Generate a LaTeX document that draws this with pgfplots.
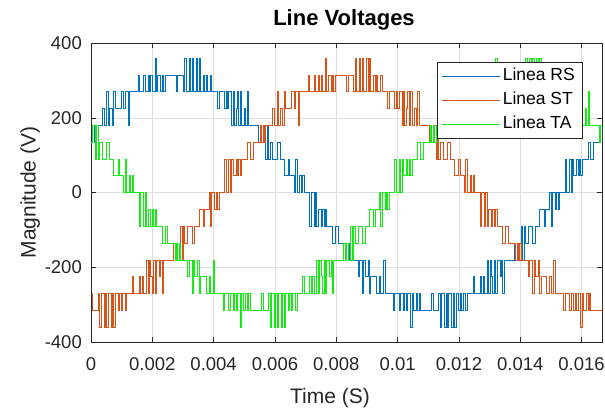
\documentclass[border=0pt]{standalone}
\usepackage{pgfplots}
\usepackage{pgfplotstable}
\pgfplotsset{compat=1.18}
\usepackage{fontspec}
\setmainfont{Liberation Sans}
\definecolor{mblue}{RGB}{0,114,189}
\definecolor{mred}{RGB}{217,83,25}
\definecolor{mgreen}{RGB}{20,235,20}
\definecolor{axgray}{RGB}{38,38,38}
\definecolor{gridgray}{RGB}{222,222,222}

\pgfplotstableread{
t rs st ta
0.000000 135 -270 135
0.000046 180 -315 180
0.000093 135 -315 180
0.000139 180 -315 90
0.000185 180 -315 180
0.000231 180 -270 90
0.000278 180 -360 135
0.000324 180 -270 135
0.000370 225 -270 90
0.000417 180 -360 90
0.000463 180 -270 90
0.000509 270 -360 135
0.000556 180 -270 135
0.000602 225 -270 90
0.000648 225 -360 90
0.000694 180 -270 90
0.000741 270 -360 45
0.000787 225 -270 45
0.000833 225 -270 45
0.000880 225 -315 90
0.000926 225 -270 45
0.000972 270 -315 45
0.001019 270 -270 45
0.001065 225 -270 0
0.001111 270 -315 90
0.001157 270 -270 0
0.001204 180 -270 0
0.001250 270 -270 45
0.001296 270 -270 0
0.001343 270 -225 45
0.001389 270 -270 0
0.001435 270 -270 0
0.001482 270 -270 0
0.001528 315 -270 0
0.001574 270 -225 -90
0.001620 270 -270 0
0.001667 270 -225 0
0.001713 315 -270 -90
0.001759 270 -270 0
0.001806 270 -180 -90
0.001852 315 -270 -45
0.001898 270 -180 -45
0.001945 315 -225 -90
0.001991 270 -270 -45
0.002037 270 -180 -90
0.002083 360 -270 -45
0.002130 270 -180 -90
0.002176 315 -180 -90
0.002222 315 -225 -90
0.002269 270 -180 -90
0.002315 315 -270 -135
0.002361 270 -180 -135
0.002408 315 -180 -90
0.002454 315 -180 -90
0.002500 315 -180 -135
0.002546 315 -180 -135
0.002593 315 -180 -135
0.002639 315 -180 -135
0.002685 315 -135 -135
0.002732 315 -180 -180
0.002778 270 -135 -135
0.002824 315 -180 -180
0.002871 315 -180 -135
0.002917 315 -90 -180
0.002963 315 -180 -180
0.003009 270 -90 -180
0.003056 360 -135 -180
0.003102 270 -135 -180
0.003148 270 -90 -225
0.003195 360 -90 -180
0.003241 270 -90 -180
0.003287 360 -135 -270
0.003334 270 -135 -180
0.003380 270 -90 -225
0.003426 360 -90 -225
0.003472 270 -90 -180
0.003519 360 -45 -270
0.003565 270 -45 -225
0.003611 270 -45 -225
0.003658 315 -90 -225
0.003704 270 -45 -225
0.003750 315 -45 -270
0.003797 270 -45 -270
0.003843 270 0 -225
0.003889 315 -90 -270
0.003935 270 0 -270
0.003982 270 0 -180
0.004028 270 -45 -270
0.004074 270 0 -270
0.004121 225 -45 -270
0.004167 270 0 -270
0.004213 270 0 -270
0.004260 270 0 -270
0.004306 270 0 -315
0.004352 225 90 -270
0.004398 270 0 -270
0.004445 225 0 -270
0.004491 270 90 -315
0.004537 270 0 -270
0.004584 180 90 -270
0.004630 270 45 -315
0.004676 180 45 -270
0.004723 225 90 -315
0.004769 270 45 -270
0.004815 180 90 -270
0.004861 270 45 -360
0.004908 180 90 -270
0.004954 180 90 -315
0.005000 225 90 -315
0.005047 180 90 -270
0.005093 270 135 -315
0.005139 180 135 -270
0.005186 180 90 -315
0.005232 180 90 -315
0.005278 180 135 -315
0.005324 180 135 -315
0.005371 180 135 -315
0.005417 180 135 -315
0.005463 135 135 -315
0.005510 180 180 -315
0.005556 135 135 -270
0.005602 180 180 -315
0.005649 180 135 -315
0.005695 90 180 -315
0.005741 180 180 -315
0.005787 90 180 -270
0.005834 135 180 -360
0.005880 135 180 -270
0.005926 90 225 -270
0.005973 90 180 -360
0.006019 90 180 -270
0.006065 135 270 -360
0.006112 135 180 -270
0.006158 90 225 -270
0.006204 90 225 -360
0.006250 90 180 -270
0.006297 45 270 -360
0.006343 45 225 -270
0.006389 45 225 -270
0.006436 90 225 -315
0.006481 45 225 -270
0.006527 45 270 -315
0.006574 45 270 -270
0.006620 0 225 -270
0.006666 90 270 -315
0.006712 0 270 -270
0.006759 0 180 -270
0.006805 45 270 -270
0.006851 0 270 -270
0.006898 45 270 -225
0.006944 0 270 -270
0.006990 0 270 -270
0.007037 0 270 -270
0.007083 0 315 -270
0.007129 -90 270 -225
0.007175 0 270 -270
0.007222 0 270 -225
0.007268 -90 315 -270
0.007314 0 270 -270
0.007361 -90 270 -180
0.007407 -45 315 -270
0.007453 -45 270 -180
0.007500 -90 315 -225
0.007546 -45 270 -270
0.007592 -90 270 -180
0.007638 -45 360 -270
0.007685 -90 270 -180
0.007731 -90 315 -180
0.007777 -90 315 -225
0.007824 -90 270 -180
0.007870 -135 315 -270
0.007916 -135 270 -180
0.007963 -90 315 -180
0.008009 -90 315 -180
0.008055 -135 315 -180
0.008101 -135 315 -180
0.008148 -135 315 -180
0.008194 -135 315 -180
0.008240 -135 315 -135
0.008287 -180 315 -180
0.008333 -135 270 -135
0.008379 -180 315 -180
0.008426 -135 315 -180
0.008472 -180 315 -90
0.008518 -180 315 -180
0.008564 -180 270 -90
0.008611 -180 360 -135
0.008657 -180 270 -135
0.008703 -225 270 -90
0.008750 -180 360 -90
0.008796 -180 270 -90
0.008842 -270 360 -135
0.008889 -180 270 -135
0.008935 -225 270 -90
0.008981 -225 360 -90
0.009027 -180 270 -90
0.009074 -270 360 -45
0.009120 -225 270 -45
0.009166 -225 270 -45
0.009213 -225 315 -90
0.009259 -225 270 -45
0.009305 -270 315 -45
0.009352 -270 270 -45
0.009398 -225 270 0
0.009444 -270 315 -90
0.009490 -270 270 0
0.009537 -180 270 0
0.009583 -270 270 -45
0.009629 -270 270 0
0.009676 -270 225 -45
0.009722 -270 270 0
0.009768 -270 270 0
0.009815 -270 270 0
0.009861 -315 270 0
0.009907 -270 225 90
0.009953 -270 270 0
0.010000 -270 225 0
0.010046 -315 270 90
0.010092 -270 270 0
0.010139 -270 180 90
0.010185 -315 270 45
0.010231 -270 180 45
0.010278 -315 225 90
0.010324 -270 270 45
0.010370 -270 180 90
0.010416 -360 270 45
0.010463 -270 180 90
0.010509 -315 180 90
0.010555 -315 225 90
0.010602 -270 180 90
0.010648 -315 270 135
0.010694 -270 180 135
0.010741 -315 180 90
0.010787 -315 180 90
0.010833 -315 180 135
0.010879 -315 180 135
0.010926 -315 180 135
0.010972 -315 180 135
0.011018 -315 135 135
0.011065 -315 180 180
0.011111 -270 135 135
0.011157 -315 180 180
0.011204 -315 180 135
0.011250 -315 90 180
0.011296 -315 180 180
0.011342 -270 90 180
0.011389 -360 135 180
0.011435 -270 135 180
0.011481 -270 90 225
0.011528 -360 90 180
0.011574 -270 90 180
0.011620 -360 135 270
0.011667 -270 135 180
0.011713 -270 90 225
0.011759 -360 90 225
0.011805 -270 90 180
0.011852 -360 45 270
0.011898 -270 45 225
0.011944 -270 45 225
0.011991 -315 90 225
0.012037 -270 45 225
0.012083 -315 45 270
0.012130 -270 45 270
0.012176 -270 0 225
0.012222 -315 90 270
0.012268 -270 0 270
0.012315 -270 0 180
0.012361 -270 45 270
0.012407 -270 0 270
0.012454 -225 45 270
0.012500 -270 0 270
0.012546 -270 0 270
0.012593 -270 0 270
0.012639 -270 0 315
0.012685 -225 -90 270
0.012731 -270 0 270
0.012778 -225 0 270
0.012824 -270 -90 315
0.012870 -270 0 270
0.012917 -180 -90 270
0.012963 -270 -45 315
0.013009 -180 -45 270
0.013056 -225 -90 315
0.013102 -270 -45 270
0.013148 -180 -90 270
0.013194 -270 -45 360
0.013241 -180 -90 270
0.013287 -180 -90 315
0.013333 -225 -90 315
0.013380 -180 -90 270
0.013426 -270 -135 315
0.013472 -180 -135 270
0.013519 -180 -90 315
0.013565 -180 -90 315
0.013611 -180 -135 315
0.013657 -180 -135 315
0.013704 -180 -135 315
0.013750 -180 -135 315
0.013796 -135 -135 315
0.013843 -180 -180 315
0.013889 -135 -135 270
0.013935 -180 -180 315
0.013982 -180 -135 315
0.014028 -90 -180 315
0.014074 -180 -180 315
0.014120 -90 -180 270
0.014167 -135 -180 360
0.014213 -135 -180 270
0.014259 -90 -225 270
0.014306 -90 -180 360
0.014352 -90 -180 270
0.014398 -135 -270 360
0.014445 -135 -180 270
0.014491 -90 -225 270
0.014537 -90 -225 360
0.014583 -90 -180 270
0.014630 -45 -270 360
0.014676 -45 -225 270
0.014722 -45 -225 270
0.014769 -90 -225 315
0.014815 -45 -225 270
0.014861 -45 -270 315
0.014908 -45 -270 270
0.014954 0 -225 270
0.015000 -90 -270 315
0.015046 0 -270 270
0.015093 0 -180 270
0.015139 -45 -270 270
0.015185 0 -270 270
0.015232 -45 -270 225
0.015278 0 -270 270
0.015324 0 -270 270
0.015371 0 -270 270
0.015417 0 -315 270
0.015463 90 -270 225
0.015509 0 -270 270
0.015556 0 -270 225
0.015602 90 -315 270
0.015648 0 -270 270
0.015695 90 -270 180
0.015741 45 -315 270
0.015787 45 -270 180
0.015834 90 -315 225
0.015880 45 -270 270
0.015926 90 -270 180
0.015972 45 -360 270
0.016019 90 -270 180
0.016065 90 -315 180
0.016111 90 -315 225
0.016158 90 -270 180
0.016204 135 -315 270
0.016250 135 -270 180
0.016296 90 -315 180
0.016343 90 -315 180
0.016389 135 -315 180
0.016435 135 -315 180
0.016482 135 -315 180
0.016528 135 -315 180
0.016574 135 -315 135
0.016621 180 -315 180
0.016667 135 -270 135
}\datatable

\begin{document}
\begin{tikzpicture}
\path[use as bounding box] (0,0) rectangle (605bp,411bp);
\begin{axis}[
  at={(91bp,69bp)}, anchor=south west,
  scale only axis, width=511bp, height=299bp,
  xmin=0, xmax=0.016667, ymin=-400, ymax=400,
  xtick={0,0.002,0.004,0.006,0.008,0.01,0.012,0.014,0.016},
  xticklabels={0,0.002,0.004,0.006,0.008,0.01,0.012,0.014,0.016},
  ytick={-400,-200,0,200,400},
  yticklabels={-400,-200,0,200,400},
  scaled x ticks=false,
  tick align=inside,
  major tick length=5bp,
  grid=major,
  grid style={color=gridgray, line width=0.5bp},
  axis line style={color=axgray, line width=0.6bp},
  tick style={color=axgray, line width=0.5bp},
  xticklabel style={font=\fontsize{18.5bp}{22bp}\selectfont, text=axgray, anchor=north, inner sep=0pt, yshift=-15.5bp},
  yticklabel style={font=\fontsize{18.5bp}{22bp}\selectfont, text=axgray, anchor=east, inner sep=0pt, xshift=-9bp},
  title={Line Voltages},
  title style={font=\bfseries\fontsize{22bp}{26bp}\selectfont, at={(axis description cs:0.4951,1.0378)}, anchor=base, inner sep=0pt},
  xlabel={Time (S)},
  xlabel style={font=\fontsize{21bp}{25bp}\selectfont, text=axgray, at={(axis description cs:0.4677,-0.205)}, anchor=base, inner sep=0pt},
  ylabel={Magnitude (V)},
  ylabel style={font=\fontsize{21bp}{25bp}\selectfont, text=axgray, at={(axis description cs:-0.1086,0.5)}, anchor=base, inner sep=0pt},
  legend style={at={(0.961,0.936)}, anchor=north east, draw=axgray, line width=0.5bp, fill=white,
    font=\fontsize{17.5bp}{21bp}\selectfont, inner xsep=4bp, inner ysep=3bp,
    nodes={inner sep=3bp, text height=12.6bp, text depth=4bp}, row sep=1bp},
  legend cell align=left,
  legend image code/.code={\draw[#1, line width=0.6bp] (0bp,0bp) -- (58bp,0bp);},
]
\addplot[const plot, color=mblue, line width=0.5bp] table[x=t, y=rs] {\datatable};
\addlegendentry{Linea RS}
\addplot[const plot, color=mred, line width=0.5bp] table[x=t, y=st] {\datatable};
\addlegendentry{Linea ST}
\addplot[const plot, color=mgreen, line width=0.5bp] table[x=t, y=ta] {\datatable};
\addlegendentry{Linea TA}
\end{axis}
\end{tikzpicture}
\end{document}
